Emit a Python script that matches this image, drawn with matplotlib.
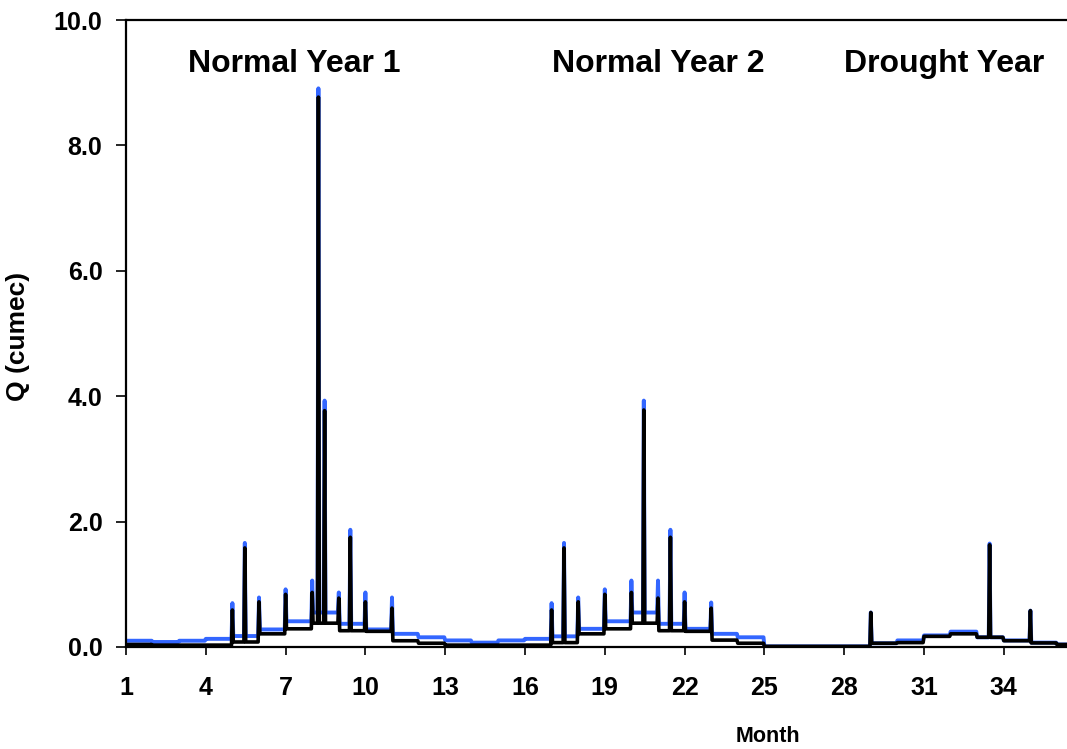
import numpy as np
import matplotlib
matplotlib.use("Agg")
import matplotlib.pyplot as plt

plt.rcParams['font.family'] = ['Liberation Sans', 'DejaVu Sans']
plt.rcParams['font.weight'] = 'bold'

# ---- data ----
months = list(range(1, 37))
blue_level = [0.10, 0.08, 0.10, 0.13, 0.175, 0.28, 0.41, 0.55, 0.37, 0.28, 0.21, 0.155,
              0.105, 0.07, 0.105, 0.13, 0.17, 0.29, 0.41, 0.55, 0.37, 0.29, 0.21, 0.155,
              0.01, 0.01, 0.01, 0.01, 0.06, 0.105, 0.185, 0.245, 0.155, 0.105, 0.07, 0.04]
black_level = [0.04, 0.03, 0.03, 0.03, 0.08, 0.21, 0.29, 0.38, 0.26, 0.25, 0.10, 0.06,
               0.03, 0.03, 0.03, 0.03, 0.07, 0.21, 0.29, 0.38, 0.26, 0.25, 0.11, 0.06,
               0.01, 0.01, 0.01, 0.01, 0.06, 0.07, 0.17, 0.21, 0.155, 0.10, 0.065, 0.04]
spike_month = [5, 5.45, 6, 7, 8, 8.22, 8.47, 9, 9.45, 10, 11,
               17, 17.45, 18, 19, 20, 20.45, 21, 21.45, 22, 23,
               29, 33.45, 35]
spike_blue = [0.70, 1.66, 0.79, 0.92, 1.06, 8.91, 3.93, 0.87, 1.87, 0.87, 0.79,
              0.70, 1.66, 0.79, 0.92, 1.06, 3.93, 1.06, 1.87, 0.87, 0.71,
              0.55, 1.65, 0.58]
spike_black = [0.59, 1.58, 0.72, 0.84, 0.87, 8.77, 3.77, 0.78, 1.75, 0.72, 0.62,
               0.59, 1.58, 0.72, 0.84, 0.87, 3.78, 0.78, 1.75, 0.72, 0.62,
               0.55, 1.63, 0.58]
x_ticks = [1, 4, 7, 10, 13, 16, 19, 22, 25, 28, 31, 34]
y_ticks = [0, 2, 4, 6, 8, 10]
year_labels = ["Normal Year 1", "Normal Year 2", "Drought Year"]

# ---- build daily series from the monthly levels and spike days ----
dpm = 30
x = np.array([m + d / dpm for m in months for d in range(dpm)])


def series(levels, spikes):
    y = np.repeat(np.array(levels, dtype=float), dpm)
    for sm, sv in zip(spike_month, spikes):
        idx = int(round((sm - 1) * dpm))
        y[idx] = sv
    return y


yb = series(blue_level, spike_blue)
yk = series(black_level, spike_black)

W, H = 1067, 749
fig = plt.figure(figsize=(W / 100, H / 100), dpi=100)
ax = fig.add_axes([126 / W, 1 - 647 / H, 1 - 126 / W, (647 - 20) / H])

ax.plot(x, yb, color='#3366FF', lw=2.8, solid_joinstyle='round', zorder=2)
ax.plot(x, yk, color='black', lw=2.6, solid_joinstyle='round', zorder=3)

ax.set_xlim(1, 1 + (W - 126) / 26.6)
ax.set_ylim(0, 10)
ax.set_xticks(x_ticks)
ax.set_xticklabels([str(t) for t in x_ticks])
ax.set_yticks(y_ticks)
ax.set_yticklabels([f"{t:.1f}" for t in y_ticks])

ax.spines['right'].set_visible(False)
for s in ['left', 'bottom', 'top']:
    ax.spines[s].set_linewidth(1.6)
    ax.spines[s].set_color('black')

ax.tick_params(axis='x', direction='out', length=6, width=1.2, pad=15, labelsize=18)
ax.tick_params(axis='y', direction='out', length=7, width=1.2, pad=10, labelsize=18)
for lab in ax.get_xticklabels() + ax.get_yticklabels():
    lab.set_fontweight('bold')

ax.set_xlabel("Month", fontsize=15.5, fontweight='bold')
ax.xaxis.label.set_va('center')
ax.xaxis.set_label_coords((768 - 126) / 941, (647 - 737) / 627)
ax.set_ylabel("Q (cumec)", fontsize=19, fontweight='bold')
ax.yaxis.label.set_va('center')
ax.yaxis.set_label_coords((18 - 126) / 941, (647 - 336) / 627)

label_x = [7.34, 21.0, 31.75]
for lx, t in zip(label_x, year_labels):
    ax.text(lx, 9.3, t, ha='center', va='center', fontsize=23, fontweight='bold')

fig.savefig("out.png", dpi=100)
